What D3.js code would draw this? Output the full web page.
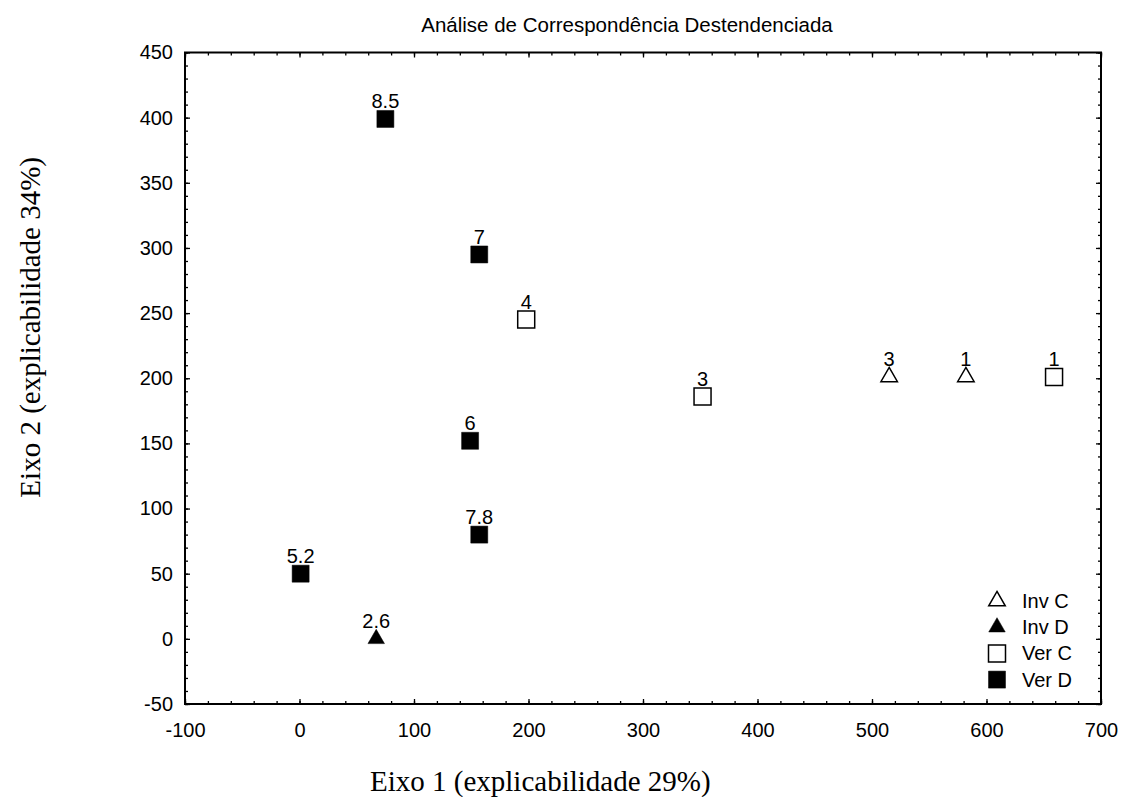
<!DOCTYPE html>
<html>
<head>
<meta charset="utf-8">
<script src="https://cdn.jsdelivr.net/npm/d3@7"></script>
<style>
  html, body { margin: 0; padding: 0; background: #fff; }
  svg { display: block; }
  text { fill: #000; }
</style>
</head>
<body>
<script>
// ---- data ----
const invC = [ {x: 515, y: 201, label: "3"}, {x: 582, y: 201, label: "1"} ];
const invD = [ {x: 67, y: 0, label: "2.6"} ];
const verC = [ {x: 198, y: 245, label: "4"}, {x: 352, y: 186, label: "3"}, {x: 659, y: 201, label: "1"} ];
const verD = [ {x: 75, y: 399, label: "8.5"}, {x: 157, y: 295, label: "7"}, {x: 149, y: 152, label: "6"},
               {x: 157, y: 80, label: "7.8"}, {x: 1, y: 50, label: "5.2"} ];
const legendLabels = ["Inv C", "Inv D", "Ver C", "Ver D"];
const xTicks = [-100, 0, 100, 200, 300, 400, 500, 600, 700];
const yTicks = [-50, 0, 50, 100, 150, 200, 250, 300, 350, 400, 450];
const title = "Análise de Correspondência Destendenciada";
const xTitle = "Eixo 1 (explicabilidade 29%)";
const yTitle = "Eixo 2 (explicabilidade 34%)";

// ---- layout ----
const W = 1122, H = 797;
const L = 185, R = 1101, T = 52.5, B = 704;
const sans = "'Liberation Sans', Arial, sans-serif";
const serif = "'Liberation Serif', 'Times New Roman', serif";

const svg = d3.select("body").append("svg").attr("width", W).attr("height", H);

const x = d3.scaleLinear().domain([-100, 700]).range([L, R]);
const y = d3.scaleLinear().domain([-50, 450]).range([B, T]);

const xMinor = d3.range(-100, 701, 20);
const yMinor = d3.range(-50, 451, 10);
const fmt = d => String(d); // plain hyphen for negatives

function styleAxis(g) {
  g.select(".domain").remove();
  g.selectAll(".tick line").attr("stroke", "#000").attr("stroke-width", 1.3);
  g.selectAll(".tick text").attr("font-family", sans).attr("font-size", 20).attr("fill", "#000");
}

// minor ticks (all four sides)
svg.append("g").attr("transform", `translate(0,${B})`)
  .call(d3.axisBottom(x).tickValues(xMinor).tickSize(-3).tickFormat("")).call(styleAxis);
svg.append("g").attr("transform", `translate(0,${T})`)
  .call(d3.axisTop(x).tickValues(xMinor).tickSize(-3).tickFormat("")).call(styleAxis);
svg.append("g").attr("transform", `translate(${L},0)`)
  .call(d3.axisLeft(y).tickValues(yMinor).tickSize(-3).tickFormat("")).call(styleAxis);
svg.append("g").attr("transform", `translate(${R},0)`)
  .call(d3.axisRight(y).tickValues(yMinor).tickSize(-3).tickFormat("")).call(styleAxis);

// major ticks
svg.append("g").attr("transform", `translate(0,${B})`)
  .call(d3.axisBottom(x).tickValues(xTicks).tickSize(-5).tickPadding(19).tickFormat(fmt)).call(styleAxis);
svg.append("g").attr("transform", `translate(0,${T})`)
  .call(d3.axisTop(x).tickValues(xTicks).tickSize(-5).tickFormat("")).call(styleAxis);
svg.append("g").attr("transform", `translate(${L},0)`)
  .call(d3.axisLeft(y).tickValues(yTicks).tickSize(-5).tickPadding(12).tickFormat(fmt)).call(styleAxis);
svg.append("g").attr("transform", `translate(${R},0)`)
  .call(d3.axisRight(y).tickValues(yTicks).tickSize(-5).tickFormat("")).call(styleAxis);

// frame
svg.append("rect").attr("x", L).attr("y", T).attr("width", R - L).attr("height", B - T)
  .attr("fill", "none").attr("stroke", "#000").attr("stroke-width", 2);

// symbols
const sq = d3.symbol().type(d3.symbolSquare).size(17 * 17);
const tri = d3.symbol().type(d3.symbolTriangle).size(118);

function drawSeries(data, gen, fill, openStyle) {
  const g = svg.append("g");
  g.selectAll("path").data(data).join("path")
    .attr("transform", d => `translate(${x(d.x)},${y(d.y)})`)
    .attr("d", gen)
    .attr("fill", fill)
    .attr("stroke", "#000")
    .attr("stroke-width", openStyle ? 1.5 : 0.5);
  g.selectAll("text").data(data).join("text")
    .attr("x", d => x(d.x))
    .attr("y", d => y(d.y) - 10.5)
    .attr("text-anchor", "middle")
    .attr("font-family", sans).attr("font-size", 20)
    .text(d => d.label);
}
drawSeries(invC, tri, "#fff", true);
drawSeries(invD, tri, "#000", false);
drawSeries(verC, sq, "#fff", true);
drawSeries(verD, sq, "#000", false);

// legend
const legendGens = [tri, tri, sq, sq];
const legendFills = ["#fff", "#000", "#fff", "#000"];
const lg = svg.append("g");
legendLabels.forEach((lab, i) => {
  const cy = 601 + i * 26.2;
  lg.append("path").attr("transform", `translate(997,${cy})`)
    .attr("d", legendGens[i]).attr("fill", legendFills[i])
    .attr("stroke", "#000").attr("stroke-width", legendFills[i] === "#fff" ? 1.5 : 0.5);
  lg.append("text").attr("x", 1022).attr("y", cy).attr("dy", "0.35em")
    .attr("font-family", sans).attr("font-size", 20).text(lab);
});

// titles
svg.append("text").attr("x", 627).attr("y", 32).attr("text-anchor", "middle")
  .attr("font-family", sans).attr("font-size", 20.5).text(title);
svg.append("text").attr("x", 370).attr("y", 791).attr("text-anchor", "start")
  .attr("font-family", serif).attr("font-size", 29).text(xTitle);
svg.append("text").attr("transform", "translate(40,157) rotate(-90)").attr("text-anchor", "end")
  .attr("font-family", serif).attr("font-size", 29).text(yTitle);
</script>
</body>
</html>
